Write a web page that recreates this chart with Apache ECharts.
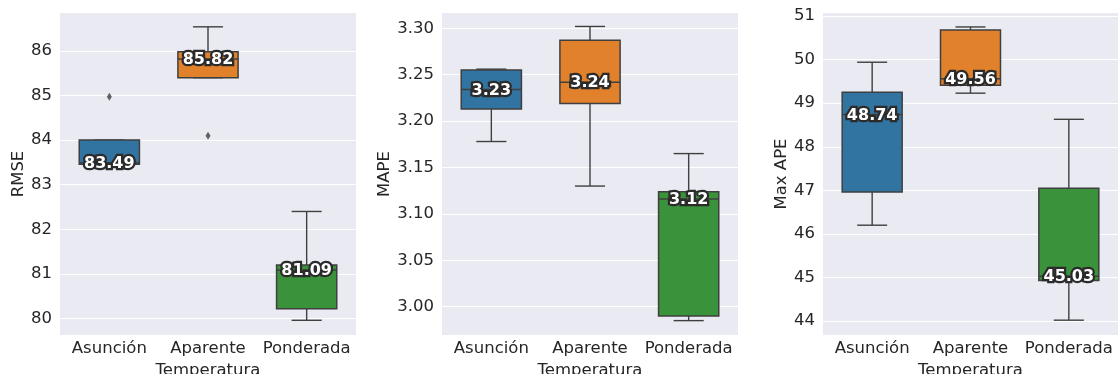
<!DOCTYPE html>
<html>
<head>
<meta charset="utf-8">
<script src="https://cdn.jsdelivr.net/npm/echarts@6/dist/echarts.min.js"></script>
<style>
html,body{margin:0;padding:0;background:#fff;}
#c{width:1118px;height:374px;}
</style>
</head>
<body>
<div id="c"></div>
<script>
// ---- data ----
const categories = ['Asunción', 'Aparente', 'Ponderada'];
// [min, Q1, median, Q3, max]
const rmseBox = [
  [83.46, 83.46, 83.49, 84.00, 84.00],
  [85.40, 85.40, 85.82, 85.98, 86.54],
  [79.96, 80.22, 81.09, 81.20, 82.40]
];
const rmseOutliers = [[0, 84.97], [1, 84.10]];
const rmseLabels = ['83.49', '85.82', '81.09'];

const mapeBox = [
  [3.178, 3.213, 3.234, 3.255, 3.256],
  [3.130, 3.219, 3.242, 3.287, 3.302],
  [2.985, 2.990, 3.116, 3.124, 3.165]
];
const mapeOutliers = [];
const mapeLabels = ['3.23', '3.24', '3.12'];

const maxApeBox = [
  [46.20, 46.96, 48.74, 49.25, 49.94],
  [49.23, 49.41, 49.56, 50.68, 50.75],
  [44.02, 44.93, 45.03, 47.05, 48.63]
];
const maxApeOutliers = [];
const maxApeLabels = ['48.74', '49.56', '45.03'];

const yRanges = [[79.63, 86.85], [2.9695, 3.3165], [43.68, 51.07]];
const yNames = ['RMSE', 'MAPE', 'Max APE'];
const yDecimals = [0, 2, 0];
const yStep = [1, 0.05, 1];

// ---- style ----
const boxColors = ['#3274a1', '#e1812c', '#3a923a'];
const edge = '#3f3f3f';
const txt = '#262626';
const FS = 16.5;

const grids = [
  {left: 60, top: 13, width: 296, bottom: 39},
  {left: 442, top: 13, width: 296, bottom: 39},
  {left: 823, top: 13, width: 295, bottom: 39}
];
const nameGaps = [30, 46, 31];

const panels = [
  {box: rmseBox, out: rmseOutliers, lab: rmseLabels},
  {box: mapeBox, out: mapeOutliers, lab: mapeLabels},
  {box: maxApeBox, out: maxApeOutliers, lab: maxApeLabels}
];

const option = {
  animation: false,
  grid: grids.map(g => Object.assign({show: true, backgroundColor: '#eaeaf2', borderWidth: 0,
    containLabel: false, outerBoundsMode: 'none'}, g)),
  xAxis: grids.map((g, i) => ({
    type: 'category', gridIndex: i, data: categories,
    axisLine: {show: false}, axisTick: {show: false}, splitLine: {show: false},
    axisLabel: {fontSize: FS, color: txt, margin: 5, interval: 0, hideOverlap: false, fontFamily: 'DejaVu Sans'},
    name: 'Temperatura', nameLocation: 'middle', nameGap: 21,
    nameTextStyle: {fontSize: FS, color: txt, fontFamily: 'DejaVu Sans'}
  })),
  yAxis: grids.map((g, i) => ({
    type: 'value', gridIndex: i, min: yRanges[i][0], max: yRanges[i][1], splitNumber: 7,
    axisLine: {show: false}, axisTick: {show: false},
    splitLine: {show: true, showMinLine: false, showMaxLine: false, lineStyle: {color: '#ffffff', width: 1}},
    axisLabel: {
      fontSize: FS, color: txt, margin: 8, fontFamily: 'DejaVu Sans', hideOverlap: false,
      formatter: function (v) {
        const k = v / yStep[i];
        if (Math.abs(k - Math.round(k)) > 1e-6) return '';
        return v.toFixed(yDecimals[i]);
      }
    },
    name: yNames[i], nameLocation: 'middle', nameGap: nameGaps[i],
    nameTextStyle: {fontSize: FS, color: txt, fontFamily: 'DejaVu Sans'}
  })),
  series: []
};

panels.forEach((p, i) => {
  option.series.push({
    type: 'custom', xAxisIndex: i, yAxisIndex: i, z: 3,
    data: p.box.map((b, k) => [k].concat(b)),
    renderItem: function (params, api) {
      const k = api.value(0);
      const pMin = api.coord([k, api.value(1)]);
      const pQ1 = api.coord([k, api.value(2)]);
      const pMed = api.coord([k, api.value(3)]);
      const pQ3 = api.coord([k, api.value(4)]);
      const pMax = api.coord([k, api.value(5)]);
      const band = api.size([1, 0])[0];
      const bw = band * 0.61;
      const cw = bw / 2;
      const x = pMed[0];
      const ls = {stroke: edge, lineWidth: 1.4};
      return {
        type: 'group',
        children: [
          {type: 'line', shape: {x1: x, y1: pQ3[1], x2: x, y2: pMax[1]}, style: ls},
          {type: 'line', shape: {x1: x, y1: pQ1[1], x2: x, y2: pMin[1]}, style: ls},
          {type: 'line', shape: {x1: x - cw / 2, y1: pMax[1], x2: x + cw / 2, y2: pMax[1]}, style: ls},
          {type: 'line', shape: {x1: x - cw / 2, y1: pMin[1], x2: x + cw / 2, y2: pMin[1]}, style: ls},
          {type: 'rect', shape: {x: x - bw / 2, y: pQ3[1], width: bw, height: pQ1[1] - pQ3[1]},
            style: {fill: boxColors[k], stroke: edge, lineWidth: 1.5}},
          {type: 'line', shape: {x1: x - bw / 2, y1: pMed[1], x2: x + bw / 2, y2: pMed[1]},
            style: {stroke: edge, lineWidth: 1.5}},
          {type: 'text', x: x, y: pMed[1] + 1, z2: 10,
            style: {text: p.lab[k], fill: '#ffffff', stroke: '#2b2b2b', lineWidth: 4.5, strokeFirst: true,
              font: 'bold 16px "DejaVu Sans"', align: 'center', verticalAlign: 'middle'}}
        ]
      };
    }
  });
  option.series.push({
    type: 'scatter', xAxisIndex: i, yAxisIndex: i, z: 4,
    symbol: 'diamond', symbolSize: [5, 8],
    itemStyle: {color: edge},
    data: p.out
  });
});

const chart = echarts.init(document.getElementById('c'), null, {renderer: 'canvas'});
chart.setOption(option);
</script>
</body>
</html>
